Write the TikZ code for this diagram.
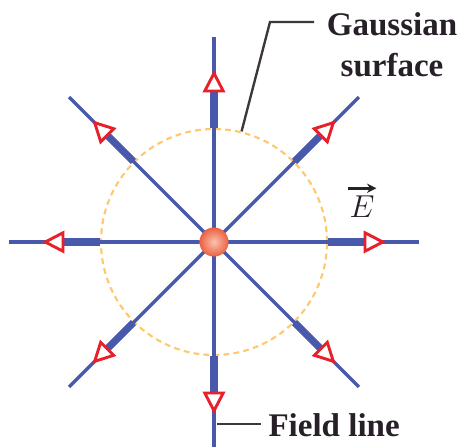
\documentclass[tikz,border=0pt]{standalone}
\usepackage{fontspec}
\setmainfont{Liberation Serif}
\usetikzlibrary{arrows.meta,positioning,shapes}
\definecolor{fieldblue}{RGB}{72,88,170}
\definecolor{tipred}{RGB}{232,32,42}
\definecolor{surforange}{RGB}{255,200,110}
\definecolor{chargered}{RGB}{236,96,66}
\definecolor{chargelight}{RGB}{250,195,175}
\definecolor{inkdark}{RGB}{40,32,40}

\begin{document}
\begin{tikzpicture}[x=0.0133cm,y=0.0133cm,
    fld/.style={fieldblue,line width=1.25pt},
    vec/.style={fieldblue,line width=2.7pt,-{Triangle[color=tipred,fill=white,length=8.5pt,width=8.5pt,line width=1.1pt]}},
    surf/.style={surforange,line width=0.8pt,dash pattern=on 2.2pt off 1.6pt},
    lead/.style={inkdark!90,line width=0.9pt},
    lbl/.style={inner sep=0pt,text=inkdark,font=\fontsize{12.5}{15.5}\selectfont\bfseries},
    charge/.style={circle,inner sep=0pt,minimum size=11pt,inner color=chargelight,outer color=chargered}]
  \useasboundingbox (-214,-205) rectangle (245,242);
  \coordinate (o) at (0,0);

  \draw[surf] (o) circle (113);
  \foreach \a in {0,45,...,315}{
    \coordinate (end\a) at (\a:205);
    \coordinate (in\a) at (\a:114);
    \coordinate (tip\a) at (\a:172);
    \draw[fld] (o) -- (end\a);
    \draw[vec] (in\a) -- (tip\a);
  }
  \node[charge] (q) at (o) {};

  % labels
  \node[lbl,align=center,anchor=north] (gs) at (178,230) {Gaussian\\surface};
  \coordinate (gsp) at (76:114);
  \coordinate (gk) at (56,220);
  \coordinate (ge) at (100,220);
  \draw[lead] (gsp) -- (gk) -- (ge);

  \node[lbl,font=\fontsize{12.5}{15}\selectfont] (ev) at (148,35) {$E$};
  \draw[inkdark,line width=1pt,-{Stealth[length=3.5pt,width=3.5pt]}] ([xshift=-0.5pt,yshift=2.8pt]ev.north west) -- ([xshift=0.5pt,yshift=2.8pt]ev.north east);

  \node[lbl,anchor=base west] (fl) at (54,-194) {Field line};
  \coordinate (fp) at (3,-182);
  \draw[lead] (fp) -- (fl.west |- fp) [shorten >=2.6pt];
\end{tikzpicture}
\end{document}
